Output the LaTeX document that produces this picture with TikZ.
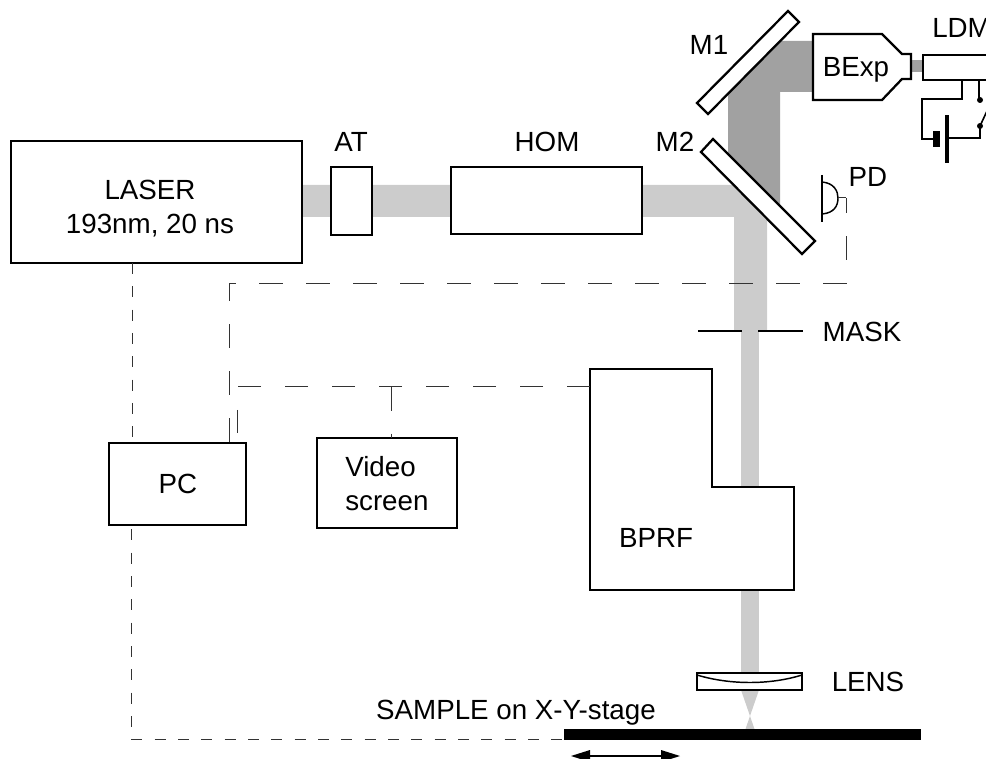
\documentclass[tikz,border=0pt]{standalone}
\usepackage{fontspec}
\setmainfont{Liberation Sans}
\definecolor{lightbeam}{gray}{0.8}
\definecolor{darkbeam}{gray}{0.63}
\tikzset{
  x=0.75pt,y=-0.75pt,
  box/.style={draw=black,line width=1.7pt,fill=white,inner sep=0pt},
  thinline/.style={draw=black,line width=1.1pt},
  longdash/.style={draw=black!80,line width=0.75pt,dash pattern=on 17.6pt off 17.65pt},
  shortdash/.style={draw=black!80,line width=0.75pt,dash pattern=on 8.3pt off 9.2pt},
  lab/.style={inner sep=0pt,font=\fontsize{20.8pt}{25.5pt}\selectfont,align=center}
}
\begin{document}
\begin{tikzpicture}
\useasboundingbox (0,0) rectangle (986,759);
\clip (0,0) rectangle (986,759);
% beams
\fill[lightbeam] (300,185) -- (746,185) -- (767,206) -- (767,331) -- (734,331) -- (734,217) -- (300,217) -- cycle;
\fill[lightbeam] (741,331) rectangle (759,690);
\fill[lightbeam] (741,690) -- (759,690) -- (750,716) -- (754.5,729) -- (745.5,729) -- (750,716) -- cycle;
\fill[darkbeam] (769,41) -- (815,41) -- (815,92) -- (780,92) -- (780,218) -- (728,166) -- (728,83) -- cycle;
\fill[darkbeam] (905,60) rectangle (925,72);
% mirrors
\draw[box] (788,11) -- (799,22) -- (708,114) -- (697,103) -- cycle;
\draw[box] (713,139) -- (815,241) -- (802,254) -- (701,152) -- cycle;
% boxes
\node[box,minimum width=291*0.75pt,minimum height=122*0.75pt] (laser) at (156.5,202) {};
\node[lab] at (150,209) {LASER\\193nm, 20 ns};
\node[box,minimum width=41*0.75pt,minimum height=68*0.75pt] (at) at (351.5,201) {};
\node[box,minimum width=191*0.75pt,minimum height=67*0.75pt] (hom) at (546.5,200.5) {};
\node[lab] at (351,142) {AT};
\node[lab] at (547,142) {HOM};
\node[lab] at (675,142) {M2};
\node[lab] at (709,45) {M1};
\draw[box] (813,34) -- (882,34) -- (902,54) -- (911,54) -- (911,79) -- (902,79) -- (882,100) -- (813,100) -- cycle;
\node[lab] at (856,70) {BExp};
% LDM
\draw[box] (990,55) -- (923,55) -- (923,80) -- (990,80);
\node[lab,anchor=west] at (932,28) {LDM};
\draw[thinline,line width=1.2pt] (962,80) -- (962,99) -- (922,99) -- (922,139) -- (933,139);
\fill (933,131) rectangle (940,147);
\fill (945,115) rectangle (949,163);
\draw[thinline,line width=1.2pt] (949,138) -- (980,138) -- (980,126);
\draw[thinline,line width=1.2pt] (979,80) -- (979,100);
\fill (980,100) circle[radius=3];
\fill (980,126) circle[radius=3];
\draw[thinline,line width=1.2pt] (980,126) -- (987,111);
% PD
\draw[thinline] (822,175) -- (822,222);
\draw[thinline] (822,182) .. controls (834,183) and (838,191) .. (838,198) .. controls (838,206) and (834,213) .. (822,214);
\coordinate (pdlead) at (838,198);
\node[lab] at (868,177) {PD};
\draw[draw=black!80,line width=0.75pt] (pdlead) -- (846,198);
\draw[longdash,dash phase=6.4pt] (846,198) -- (846,284) -- (229,284) -- (229,443);
% BPRF
\draw[box] (590,369) -- (712,369) -- (712,487) -- (794,487) -- (794,590) -- (590,590) -- cycle;
\coordinate (bprfw) at (590,387);
\node[lab] at (656,538) {BPRF};
% PC, Video
\node[box,minimum width=137*0.75pt,minimum height=82*0.75pt] (pc) at (177.5,484) {};
\node[lab] at (178,484) {PC};
\node[box,minimum width=140*0.75pt,minimum height=90*0.75pt] (video) at (387,483) {};
\node[lab,align=left,anchor=west] at (345,484) {Video\\screen};
\draw[longdash] (bprfw) -- (237,387) -- (237,443);
\draw[draw=black!80,line width=0.75pt,dash pattern=on 18pt off 17pt] (391,387) -- (391,438);
\draw[shortdash] (132,263) -- (132,443);
\draw[shortdash,dash phase=15pt] (131,526) -- (131,739) -- (565,739);
% Mask
\draw[draw=black,line width=1.2pt] (698,331) -- (742,331);
\draw[draw=black,line width=1.2pt] (758,331) -- (803,331);
\node[lab] at (862,332) {MASK};
% Lens
\draw[box,line width=1.5pt] (697,673) rectangle (802,690);
\draw[thinline] (697,675) .. controls (730,685) and (770,685) .. (802,675);
\node[lab] at (868,682) {LENS};
% Stage
\fill (564,729) rectangle (921,740);
\node[lab] at (516,713) {SAMPLE on X-Y-stage};
\draw[line width=1.2pt] (585,756) -- (665,756);
\fill (571,756) -- (590,750) -- (590,762) -- cycle;
\fill (680,756) -- (661,750) -- (661,762) -- cycle;
\end{tikzpicture}
\end{document}
